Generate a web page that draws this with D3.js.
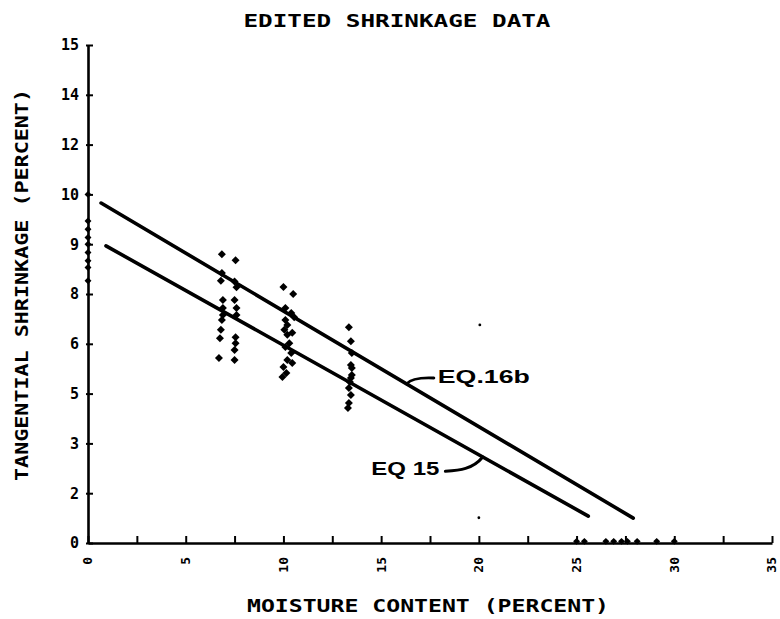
<!DOCTYPE html>
<html><head><meta charset="utf-8">
<script src="https://cdn.jsdelivr.net/npm/d3@7"></script>
<style>
body{margin:0;background:#fff;}
svg{display:block;}
text{fill:#000;}
</style></head>
<body>
<svg id="c" width="780" height="619"></svg>
<script>
// ---- data ----
const yTickValues = [0,1.5,3,4.5,6,7.5,9,10.5,12,13.5,15];
const yTickLabels = ["0","2","3","5","6","8","9","10","12","14","15"];
const xTickValues = [0,2.5,5,7.5,10,12.5,15,17.5,20,22.5,25,27.5,30,32.5,35];
const xTickLabels = ["0","","5","","10","","15","","20","","25","","30","","35"];

const cluster7 = [[6.85,8.70],[7.55,8.52],[6.85,8.13],[6.8,7.9],[7.5,7.88],[7.6,7.7],[6.9,7.32],[7.5,7.32],[7.6,7.08],[6.9,7.08],[6.9,6.87],[7.6,6.87],[6.85,6.72],[6.8,6.42],[6.75,6.17],[7.55,6.2],[7.55,6.02],[7.5,5.81],[6.7,5.57],[7.5,5.51]];
const cluster10 = [[10.0,7.71],[10.5,7.5],[10.1,7.08],[10.4,6.93],[10.55,6.8],[10.1,6.72],[10.2,6.57],[10.05,6.42],[10.2,6.27],[10.45,6.33],[10.3,6.02],[10.1,5.9],[10.4,5.72],[10.2,5.51],[10.45,5.42],[10.0,5.3],[10.15,5.12],[9.95,5.0]];
const cluster13 = [[13.35,6.5],[13.45,6.08],[13.5,5.72],[13.45,5.36],[13.5,5.27],[13.5,5.06],[13.45,4.97],[13.4,4.85],[13.35,4.67],[13.45,4.46],[13.35,4.22],[13.3,4.07]];
const yAxisPts = [[0,10.5],[0,9.7],[0,9.45],[0,9.2],[0,9.0],[0,8.75],[0,8.5],[0,8.3],[0,7.9]];
const xAxisPts = [[25.0,0.05],[25.4,0.05],[26.5,0.05],[26.9,0.05],[27.3,0.05],[27.6,0.05],[28.1,0.05],[29.1,0.05],[30.0,0.05]];
const specks = [[20.05,6.57],[20.0,0.76]];

const eq16b = [[0.67,10.24],[27.9,0.75]];
const eq15  = [[0.92,8.95],[25.6,0.81]];

const labels = [
  {text:"EQ.16b", at:[17.9,5.0], leaderFrom:16.3, line:eq16b, len:92},
  {text:"EQ 15",  at:[14.5,2.25], leaderFrom:20.2, line:eq15, len:68}
];

// ---- drawing ----
const svg = d3.select("#c");
const x = d3.scaleLinear().domain([0,35]).range([88,772]);
const y = d3.scaleLinear().domain([0,15]).range([543,45]);
const fontB = "'DejaVu Sans Mono', monospace";

svg.append("text").attr("x",397).attr("y",27).attr("text-anchor","middle")
  .style("font-family",fontB).style("font-weight","bold").style("font-size","17px")
  .attr("textLength",307).attr("lengthAdjust","spacingAndGlyphs")
  .text("EDITED SHRINKAGE DATA");

svg.append("text").attr("x",428).attr("y",612).attr("text-anchor","middle")
  .style("font-family",fontB).style("font-weight","bold").style("font-size","18px")
  .attr("textLength",362).attr("lengthAdjust","spacingAndGlyphs")
  .text("MOISTURE CONTENT (PERCENT)");

svg.append("text").attr("transform","translate(28,285) rotate(-90)").attr("text-anchor","middle")
  .style("font-family",fontB).style("font-weight","bold").style("font-size","17px")
  .attr("textLength",392).attr("lengthAdjust","spacingAndGlyphs")
  .text("TANGENTIAL SHRINKAGE (PERCENT)");

// y axis
const yAxis = d3.axisLeft(y).tickValues(yTickValues)
  .tickFormat((d,i)=>yTickLabels[i]).tickSizeInner(-5).tickSizeOuter(0).tickPadding(9);
const gy = svg.append("g").attr("transform",`translate(${x(0)},0)`).call(yAxis);
gy.select(".domain").attr("stroke","#000").attr("stroke-width",2.6);
gy.selectAll(".tick line").attr("stroke","#000").attr("stroke-width",2).attr("x1",-2);
gy.selectAll(".tick text").style("font-family",fontB).style("font-weight","bold").style("font-size","15px");

// x axis
const xAxis = d3.axisBottom(x).tickValues(xTickValues)
  .tickFormat((d,i)=>xTickLabels[i]).tickSizeInner(-7).tickSizeOuter(0);
const gx = svg.append("g").attr("transform",`translate(0,${y(0)})`).call(xAxis);
gx.select(".domain").attr("stroke","#000").attr("stroke-width",2.6);
gx.selectAll(".tick line").attr("stroke","#000").attr("stroke-width",2);
gx.selectAll(".tick text").attr("transform","rotate(-90)").attr("x",-14).attr("y",0).attr("dy","0.3em")
  .attr("text-anchor","end")
  .style("font-family",fontB).style("font-weight","bold").style("font-size","13px");

// equation lines
const line = d3.line().x(d=>x(d[0])).y(d=>y(d[1]));
[eq16b, eq15].forEach(l=>{
  svg.append("path").attr("d",line(l)).attr("fill","none").attr("stroke","#000")
    .attr("stroke-width",3.6).attr("stroke-linecap","round");
});

// points
const sym = d3.symbol().type(d3.symbolSquare).size(32);
const allPts = cluster7.concat(cluster10, cluster13);
svg.append("g").selectAll("path").data(allPts).join("path")
  .attr("d",sym).attr("transform",d=>`translate(${x(d[0])},${y(d[1])}) rotate(45)`).attr("fill","#000");
const symS = d3.symbol().type(d3.symbolSquare).size(24);
svg.append("g").selectAll("path").data(yAxisPts.concat(xAxisPts)).join("path")
  .attr("d",symS).attr("transform",d=>`translate(${x(d[0])},${y(d[1])}) rotate(45)`).attr("fill","#000");
svg.append("g").selectAll("circle").data(specks).join("circle")
  .attr("cx",d=>x(d[0])).attr("cy",d=>y(d[1])).attr("r",1.4).attr("fill","#000");

// labels with leaders
function lineAt(l, mc){
  const [a,b]=l; return a[1]+(b[1]-a[1])*(mc-a[0])/(b[0]-a[0]);
}
labels.forEach(lb=>{
  const px = x(lb.at[0]), py = y(lb.at[1]);
  svg.append("text").attr("x",px).attr("y",py).attr("dy","0.36em")
    .style("font-family","'Liberation Sans', Arial, sans-serif").style("font-weight","bold").style("font-size","18px")
    .attr("textLength",lb.len).attr("lengthAdjust","spacingAndGlyphs")
    .text(lb.text);
  const lx = x(lb.leaderFrom), ly = y(lineAt(lb.line, lb.leaderFrom));
  let d;
  if (lb.leaderFrom < lb.at[0]) {
    const ex = px - 4, ey = py + 1;
    d = `M${ex},${ey} Q${lx+6},${ey-1} ${lx},${ly}`;
  } else {
    const sx = px + lb.len + 6, sy = py + 3;
    d = `M${sx},${sy} C${sx+14},${sy-1} ${lx-10},${sy-2} ${lx},${ly}`;
  }
  svg.append("path").attr("d",d).attr("fill","none").attr("stroke","#000")
    .attr("stroke-width",3).attr("stroke-linecap","round");
});
</script>
</body></html>
